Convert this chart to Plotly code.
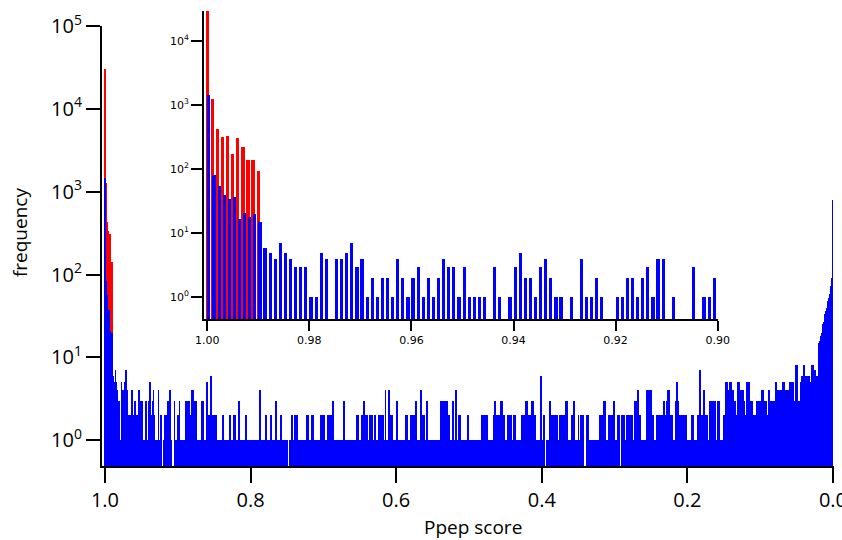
import numpy as np
import plotly.graph_objects as go

# ---------------- data ----------------
bin_width = 0.001          # histogram bin width (Ppep score units)
first_bin_upper = 1.0      # bins run from 1.0 down to 0.0

# red histogram (only the first bins near 1.0 are populated)
red_counts = [30000, 1270, 432, 324, 336, 172, 309, 226, 140, 140, 96]

# blue histogram, split by 0.1-wide score ranges (100 bins each)
blue_100_090 = [1468, 83, 56, 40, 34, 37, 17, 21, 18, 20,
                15, 6, 5, 4, 7, 5, 4, 3, 3, 3,
                1, 1, 5, 4, 0, 4, 4, 5, 7, 3,
                4, 1, 2, 1, 2, 2, 1, 4, 2, 1,
                2, 3, 1, 2, 1, 2, 4, 3, 3, 1,
                3, 1, 1, 1, 1, 0, 3, 1, 0, 1,
                3, 5, 2, 2, 1, 3, 4, 2, 1, 1,
                0, 1, 0, 4, 1, 1, 2, 1, 0, 0,
                1, 1, 2, 2, 1, 2, 3, 1, 4, 4,
                0, 1, 0, 0, 0, 3, 0, 1, 1, 2]
blue_090_080 = [2, 2, 3, 1, 1, 1, 1, 1, 1, 0,
                2, 3, 3, 2, 3, 3, 2, 2, 1, 4,
                4, 3, 3, 2, 3, 3, 0, 1, 1, 1,
                1, 1, 2, 3, 3, 1, 1, 1, 1, 5,
                5, 2, 2, 1, 2, 6, 6, 2, 2, 2,
                1, 2, 2, 1, 1, 1, 1, 1, 1, 1,
                0, 2, 2, 1, 1, 0, 1, 1, 1, 1,
                1, 2, 2, 1, 1, 1, 1, 2, 2, 1,
                1, 1, 1, 3, 3, 1, 1, 1, 1, 1,
                1, 1, 0, 2, 2, 1, 1, 1, 1, 1]
blue_080_070 = [1, 1, 1, 1, 1, 1, 1, 1, 1, 1,
                1, 1, 4, 4, 1, 1, 1, 0, 1, 1,
                2, 2, 1, 1, 1, 1, 0, 2, 2, 1,
                1, 1, 1, 1, 3, 3, 1, 1, 1, 1,
                1, 2, 2, 0, 1, 1, 1, 1, 1, 1,
                1, 0, 0, 1, 1, 1, 2, 2, 1, 1,
                1, 2, 2, 2, 1, 1, 1, 1, 1, 1,
                1, 1, 0, 1, 1, 1, 1, 2, 2, 2,
                1, 1, 1, 2, 2, 2, 1, 1, 1, 1,
                1, 1, 1, 1, 1, 0, 2, 2, 1, 2]
blue_070_060 = [2, 2, 1, 1, 1, 2, 2, 2, 1, 1,
                2, 2, 3, 3, 1, 0, 1, 1, 1, 1,
                0, 1, 1, 1, 1, 1, 1, 3, 3, 1,
                1, 1, 1, 0, 0, 1, 1, 1, 1, 1,
                1, 1, 1, 1, 1, 0, 2, 2, 1, 1,
                1, 1, 2, 2, 2, 3, 3, 2, 2, 2,
                1, 1, 1, 1, 2, 2, 2, 1, 1, 1,
                2, 2, 1, 1, 1, 1, 2, 2, 2, 2,
                2, 2, 1, 1, 1, 4, 1, 1, 1, 1,
                4, 2, 2, 2, 2, 1, 1, 0, 1, 1]
blue_060_050 = [3, 3, 1, 1, 1, 1, 1, 1, 1, 1,
                1, 1, 1, 2, 2, 1, 1, 1, 1, 1,
                2, 2, 2, 2, 2, 2, 3, 3, 1, 1,
                1, 1, 1, 4, 4, 2, 2, 2, 2, 1,
                1, 3, 3, 1, 1, 1, 1, 1, 1, 0,
                1, 1, 1, 1, 1, 1, 0, 1, 1, 1,
                1, 3, 2, 3, 2, 3, 2, 3, 3, 2,
                3, 2, 2, 1, 1, 1, 1, 3, 3, 1,
                1, 4, 4, 1, 1, 1, 2, 2, 1, 1,
                1, 1, 1, 1, 1, 1, 1, 1, 2, 2]
blue_050_040 = [1, 1, 1, 1, 0, 1, 1, 1, 1, 1,
                1, 1, 1, 1, 1, 1, 1, 2, 1, 2,
                2, 1, 2, 2, 1, 2, 1, 1, 1, 1,
                1, 1, 1, 2, 2, 3, 3, 2, 2, 2,
                0, 0, 2, 3, 3, 3, 2, 2, 2, 1,
                1, 1, 1, 2, 2, 2, 2, 2, 2, 1,
                1, 2, 2, 2, 1, 1, 1, 1, 1, 1,
                1, 1, 2, 2, 2, 2, 2, 3, 3, 3,
                1, 1, 2, 2, 2, 1, 3, 3, 2, 2,
                2, 2, 1, 1, 1, 1, 1, 1, 6, 1]
blue_040_030 = [1, 1, 2, 2, 0, 0, 0, 1, 1, 1,
                3, 3, 2, 2, 2, 1, 2, 2, 1, 2,
                2, 2, 1, 1, 1, 2, 2, 2, 2, 1,
                2, 2, 2, 3, 3, 1, 1, 1, 1, 1,
                1, 2, 2, 3, 3, 1, 1, 1, 1, 1,
                2, 1, 1, 2, 2, 2, 2, 0, 0, 0,
                0, 2, 2, 2, 1, 1, 1, 1, 1, 1,
                1, 1, 1, 1, 1, 1, 1, 1, 0, 2,
                2, 2, 2, 1, 1, 3, 3, 1, 1, 1,
                1, 2, 2, 2, 2, 2, 2, 1, 3, 3]
blue_030_020 = [1, 1, 1, 1, 2, 2, 2, 0, 0, 2,
                2, 2, 2, 1, 1, 0, 2, 2, 2, 2,
                1, 1, 2, 2, 2, 1, 1, 1, 3, 3,
                3, 4, 4, 2, 2, 2, 1, 1, 1, 1,
                1, 1, 1, 1, 4, 4, 1, 1, 4, 4,
                4, 2, 2, 2, 1, 1, 1, 2, 2, 2,
                1, 2, 2, 2, 1, 2, 2, 3, 2, 2,
                1, 3, 4, 4, 3, 4, 2, 2, 2, 2,
                1, 1, 1, 3, 3, 5, 3, 3, 2, 2,
                2, 2, 1, 2, 1, 2, 1, 1, 2, 0]
blue_020_010 = [1, 1, 1, 1, 1, 1, 2, 2, 2, 1,
                1, 1, 1, 1, 2, 2, 7, 7, 2, 2,
                2, 2, 4, 4, 2, 2, 2, 2, 1, 1,
                3, 3, 3, 1, 3, 3, 3, 3, 1, 1,
                1, 3, 3, 3, 1, 1, 1, 1, 1, 1,
                2, 2, 5, 5, 5, 4, 4, 3, 5, 5,
                3, 4, 4, 3, 3, 3, 2, 2, 2, 5,
                5, 3, 4, 4, 3, 4, 4, 3, 2, 2,
                2, 5, 5, 3, 5, 5, 3, 3, 3, 3,
                2, 2, 2, 2, 2, 3, 2, 2, 3, 3]
blue_010_000 = [2, 2, 4, 4, 3, 3, 3, 3, 2, 2,
                2, 4, 4, 2, 3, 2, 3, 2, 3, 3,
                3, 5, 5, 3, 4, 3, 3, 4, 4, 4,
                5, 5, 5, 4, 4, 4, 4, 4, 4, 4,
                5, 5, 5, 5, 5, 5, 3, 3, 3, 8,
                8, 3, 2, 3, 2, 5, 5, 6, 6, 8,
                8, 6, 6, 5, 5, 6, 6, 6, 5, 5,
                5, 8, 8, 7, 7, 7, 6, 6, 6, 6,
                15, 15, 16, 18, 20, 22, 25, 27, 30, 33,
                36, 40, 44, 48, 52, 58, 65, 72, 90, 800]

main_x_ticks = [1.0, 0.8, 0.6, 0.4, 0.2, 0.0]
main_x_labels = ["1.0", "0.8", "0.6", "0.4", "0.2", "0.0"]
main_y_ticks = [1, 10, 100, 1000, 10000, 100000]
main_y_labels = ["10<sup>0</sup>", "10<sup>1</sup>", "10<sup>2</sup>",
                 "10<sup>3</sup>", "10<sup>4</sup>", "10<sup>5</sup>"]
inset_x_ticks = [1.00, 0.98, 0.96, 0.94, 0.92, 0.90]
inset_x_labels = ["1.00", "0.98", "0.96", "0.94", "0.92", "0.90"]
inset_y_ticks = [1, 10, 100, 1000, 10000]
inset_y_labels = ["10<sup>0</sup>", "10<sup>1</sup>", "10<sup>2</sup>",
                  "10<sup>3</sup>", "10<sup>4</sup>"]

# ---------------- build ----------------
blue_counts = (blue_100_090 + blue_090_080 + blue_080_070 + blue_070_060 +
               blue_060_050 + blue_050_040 + blue_040_030 + blue_030_020 +
               blue_020_010 + blue_010_000)
n_bins = len(blue_counts)
bin_upper = first_bin_upper - bin_width * np.arange(n_bins)
bin_center = bin_upper - bin_width / 2
blue_y = [c if c > 0 else None for c in blue_counts]
red_x = bin_center[:len(red_counts)]

RED = "#ff0000"
BLUE = "#0000ff"
MAIN_FONT = "Open Sans"
INSET_FONT = "DejaVu Sans"

fig = go.Figure()
# main histogram
fig.add_trace(go.Bar(x=red_x, y=red_counts, width=bin_width,
                     marker=dict(color=RED, line=dict(width=0)),
                     xaxis="x", yaxis="y", hoverinfo="skip"))
fig.add_trace(go.Bar(x=bin_center, y=blue_y, width=bin_width,
                     marker=dict(color=BLUE, line=dict(width=0)),
                     xaxis="x", yaxis="y", hoverinfo="skip"))
# inset (zoom of 1.00 - 0.90)
fig.add_trace(go.Bar(x=red_x, y=red_counts, width=0.00065, offset=0.0002,
                     marker=dict(color=RED, line=dict(width=0)),
                     xaxis="x2", yaxis="y2", hoverinfo="skip"))
fig.add_trace(go.Bar(x=bin_center[:100], y=blue_y[:100], width=0.00062, offset=-0.00012,
                     marker=dict(color=BLUE, line=dict(width=0)),
                     xaxis="x2", yaxis="y2", hoverinfo="skip"))

axis_common = dict(showgrid=False, zeroline=False, showline=True,
                   linecolor="black", ticks="outside", tickcolor="black",
                   mirror=False, automargin=False, ticklabeloverflow="allow")

fig.update_layout(
    width=842, height=540,
    margin=dict(l=102, r=8, t=10, b=74),
    paper_bgcolor="white", plot_bgcolor="rgba(0,0,0,0)",
    showlegend=False, barmode="overlay", bargap=0,
    xaxis=dict(**axis_common, domain=[0, 1], anchor="y",
               range=[1.0041, -0.0014], tickvals=main_x_ticks, ticktext=main_x_labels,
               ticklen=15, tickwidth=2, linewidth=2,
               tickfont=dict(family=MAIN_FONT, size=20, color="black")),
    yaxis=dict(**axis_common, domain=[0, 440 / 456], anchor="x", type="log",
               range=[-0.31, 5], tickvals=main_y_ticks, ticktext=main_y_labels,
               ticklen=14, tickwidth=2, linewidth=2,
               tickfont=dict(family=MAIN_FONT, size=20, color="black")),
    xaxis2=dict(**axis_common, domain=[0.1393, 0.8411], anchor="y2",
                range=[1.00065, 0.9], tickvals=inset_x_ticks, ticktext=inset_x_labels,
                ticklen=10, tickwidth=1.5, linewidth=1.5,
                tickfont=dict(family=INSET_FONT, size=11, color="black")),
    yaxis2=dict(**axis_common, domain=[0.3224, 0.9985], anchor="x2", type="log",
                range=[-0.344, 4.478], tickvals=inset_y_ticks, ticktext=inset_y_labels,
                ticklen=11, tickwidth=1.5, linewidth=1.5,
                tickfont=dict(family=INSET_FONT, size=11, color="black")),
    annotations=[
        dict(text="frequency", xref="paper", yref="paper", x=-0.112, y=0.513,
             showarrow=False, textangle=-90, xanchor="center", yanchor="middle",
             font=dict(family=MAIN_FONT, size=19, color="black")),
        dict(text="Ppep score", xref="paper", yref="paper", x=0.507, y=-0.134,
             showarrow=False, xanchor="center", yanchor="middle",
             font=dict(family=MAIN_FONT, size=19, color="black")),
    ],
)

fig.write_html("out.html",
               config={"displayModeBar": False},
               post_script="document.body.style.margin='0';"
                           "document.body.style.overflow='hidden';")
